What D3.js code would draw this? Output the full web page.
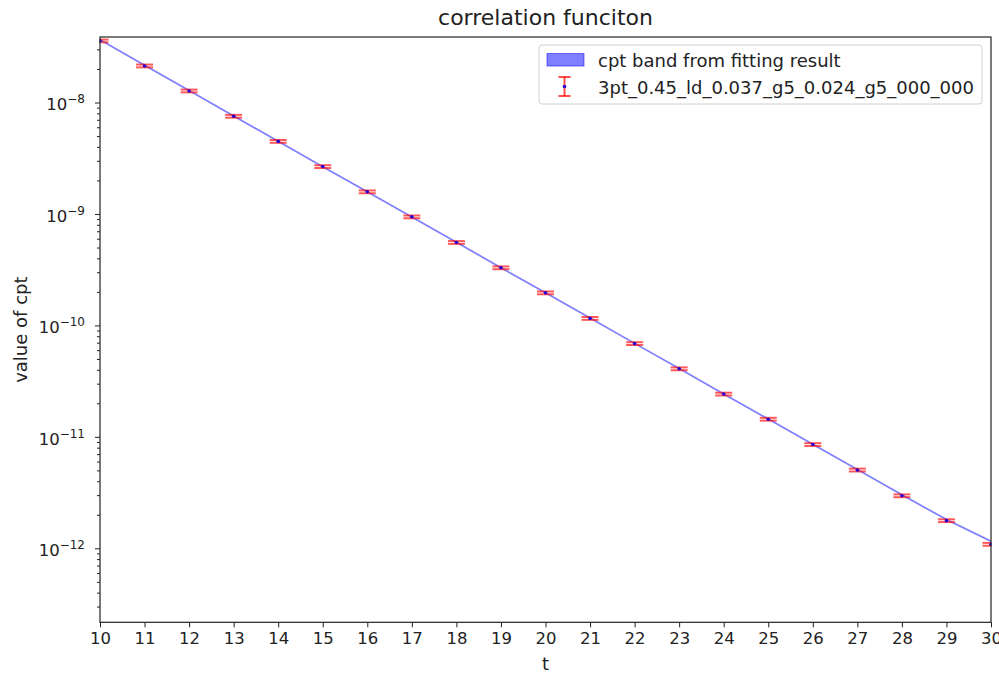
<!DOCTYPE html>
<html>
<head>
<meta charset="utf-8">
<script src="https://cdn.jsdelivr.net/npm/d3@7"></script>
<style>
  body { margin: 0; background: #fff; }
  svg, svg text { font-family: "DejaVu Sans", sans-serif; }
</style>
</head>
<body>
<div id="chart"></div>
<script>
// data
const tValues = [10, 11, 12, 13, 14, 15, 16, 17, 18, 19, 20, 21, 22, 23, 24, 25, 26, 27, 28, 29, 30];
const cptValues = [3.57e-8, 2.13e-8, 1.27e-8, 7.53e-9, 4.48e-9, 2.66e-9, 1.58e-9, 9.42e-10, 5.55e-10,
    3.29e-10, 1.96e-10, 1.156e-10, 6.87e-11, 4.08e-11, 2.42e-11, 1.44e-11, 8.53e-12, 5.04e-12,
    2.96e-12, 1.77e-12, 1.086e-12];
const cptErrors = [1.0e-9, 6.2e-10, 3.7e-10, 2.2e-10, 1.3e-10, 7.7e-11, 4.6e-11, 2.7e-11, 1.6e-11,
    9.5e-12, 5.7e-12, 3.4e-12, 2.0e-12, 1.2e-12, 7.0e-13, 4.2e-13, 2.5e-13, 1.5e-13,
    8.6e-14, 5.1e-14, 3.2e-14];
const bandCenter = [3.66e-8, 2.16e-8, 1.28e-8, 7.58e-9, 4.49e-9, 2.66e-9, 1.58e-9, 9.40e-10, 5.57e-10,
    3.30e-10, 1.96e-10, 1.163e-10, 6.90e-11, 4.10e-11, 2.43e-11, 1.445e-11, 8.60e-12, 5.10e-12,
    3.02e-12, 1.81e-12, 1.16e-12];
const bandHalf = [7.5e-10, 4.4e-10, 2.6e-10, 1.55e-10, 9.2e-11, 5.5e-11, 3.2e-11, 1.9e-11, 1.15e-11,
    6.8e-12, 4.0e-12, 2.4e-12, 1.4e-12, 8.4e-13, 5.0e-13, 3.0e-13, 1.8e-13, 1.05e-13,
    6.2e-14, 3.7e-14, 2.4e-14];
const xTicks = tValues;
const yDecades = [1e-8, 1e-9, 1e-10, 1e-11, 1e-12];
const yExponents = ["\u22128", "\u22129", "\u221210", "\u221211", "\u221212"];
const legendLabels = ["cpt band from fitting result", "3pt_0.45_ld_0.037_g5_0.024_g5_000_000"];

const width = 999, height = 674;
const margin = {top: 37, right: 8, bottom: 52, left: 100};
const font = "DejaVu Sans, sans-serif";

const svg = d3.select("#chart").append("svg")
    .attr("width", width)
    .attr("height", height)
    .attr("font-family", font);

const x = d3.scaleLinear()
    .domain([10, 30])
    .range([margin.left, 991]);

const y = d3.scaleLog()
    .domain([10 ** -12.664, 10 ** -7.412])
    .range([622.3, margin.top]);

// band
const area = d3.area()
    .x((d, i) => x(tValues[i]))
    .y0((d, i) => y(d - bandHalf[i]))
    .y1((d, i) => y(d + bandHalf[i]));

svg.append("path")
    .datum(bandCenter)
    .attr("d", area)
    .attr("fill", "rgba(0,0,255,0.5)")
    .attr("stroke", "none");

// error bars
const capHalf = 8.5;
const bars = svg.append("g").selectAll("g")
    .data(tValues)
    .enter().append("g")
    .attr("stroke", "rgba(255,0,0,0.65)")
    .attr("stroke-width", 2);

bars.append("line")
    .attr("x1", d => x(d)).attr("x2", d => x(d))
    .attr("y1", (d, i) => y(cptValues[i] - cptErrors[i]))
    .attr("y2", (d, i) => y(cptValues[i] + cptErrors[i]));
bars.append("line")
    .attr("x1", d => x(d) - capHalf).attr("x2", d => x(d) + capHalf)
    .attr("y1", (d, i) => y(cptValues[i] + cptErrors[i]))
    .attr("y2", (d, i) => y(cptValues[i] + cptErrors[i]));
bars.append("line")
    .attr("x1", d => x(d) - capHalf).attr("x2", d => x(d) + capHalf)
    .attr("y1", (d, i) => y(cptValues[i] - cptErrors[i]))
    .attr("y2", (d, i) => y(cptValues[i] - cptErrors[i]));

svg.append("g").selectAll("circle")
    .data(tValues)
    .enter().append("circle")
    .attr("cx", d => x(d))
    .attr("cy", (d, i) => y(cptValues[i]))
    .attr("r", 1.8)
    .attr("fill", "#2a00d0");

// matplotlib clips to the axes, so cover what pokes out
svg.append("rect").attr("x", 0).attr("y", 0).attr("width", width).attr("height", margin.top - 0.5).attr("fill", "#fff");
svg.append("rect").attr("x", 991.5).attr("y", 0).attr("width", 10).attr("height", height).attr("fill", "#fff");
svg.append("rect").attr("x", 0).attr("y", 0).attr("width", margin.left - 0.5).attr("height", height).attr("fill", "#fff");

// x axis
const xAxis = svg.append("g")
    .attr("transform", `translate(0,622.3)`)
    .call(d3.axisBottom(x).tickValues(xTicks).tickFormat(d3.format("d")).tickSize(5).tickPadding(5));
xAxis.attr("font-family", font).attr("font-size", 16.5);
xAxis.select(".domain").remove();
xAxis.selectAll("text").attr("fill", "#222");
xAxis.selectAll("line").attr("stroke", "#222");

// y axis with minor ticks
const minor = [];
yDecades.concat([1e-13]).forEach(dec => {
    for (let k = 2; k <= 9; k++) {
        const v = k * dec;
        if (v >= y.domain()[0] && v <= y.domain()[1]) minor.push(v);
    }
});
const yMinor = svg.append("g")
    .attr("transform", `translate(${margin.left},0)`)
    .call(d3.axisLeft(y).tickValues(minor).tickFormat("").tickSize(3));
yMinor.select(".domain").remove();
yMinor.selectAll("line").attr("stroke", "#222");

const yAxis = svg.append("g")
    .attr("transform", `translate(${margin.left},0)`)
    .call(d3.axisLeft(y).tickValues(yDecades).tickFormat("").tickSize(5));
yAxis.attr("font-family", font);
yAxis.select(".domain").remove();
yAxis.selectAll("line").attr("stroke", "#222");
yAxis.selectAll(".tick").each(function (d, i) {
    const t = d3.select(this).append("text")
        .attr("x", -15)
        .attr("dy", "0.45em")
        .attr("text-anchor", "end")
        .attr("font-size", 16.5)
        .attr("fill", "#222");
    t.append("tspan").text("10");
    t.append("tspan").attr("dy", "-0.6em").attr("font-size", 12).text(yExponents[i]);
});

// spines
svg.append("rect")
    .attr("x", margin.left)
    .attr("y", margin.top)
    .attr("width", 991 - margin.left)
    .attr("height", 622.3 - margin.top)
    .attr("fill", "none")
    .attr("stroke", "#222")
    .attr("stroke-width", 1.2);

// titles
svg.append("text")
    .attr("x", (margin.left + 991) / 2)
    .attr("y", 25)
    .attr("text-anchor", "middle")
    .attr("font-size", 22)
    .attr("fill", "#222")
    .text("correlation funciton");

svg.append("text")
    .attr("x", (margin.left + 991) / 2)
    .attr("y", 670)
    .attr("text-anchor", "middle")
    .attr("font-size", 18)
    .attr("fill", "#222")
    .text("t");

svg.append("text")
    .attr("transform", `translate(27,${(margin.top + 622.3) / 2}) rotate(-90)`)
    .attr("text-anchor", "middle")
    .attr("font-size", 18)
    .attr("fill", "#222")
    .text("value of cpt");

// legend
const legend = svg.append("g").attr("transform", "translate(539,45)");
legend.append("rect")
    .attr("width", 443)
    .attr("height", 59)
    .attr("rx", 3)
    .attr("fill", "rgba(255,255,255,0.8)")
    .attr("stroke", "#d0d0d0");
legend.append("rect")
    .attr("x", 8).attr("y", 8.5)
    .attr("width", 37).attr("height", 12.5)
    .attr("fill", "rgba(0,0,255,0.5)")
    .attr("stroke", "rgba(0,0,255,0.5)");
const li = legend.append("g")
    .attr("stroke", "rgba(255,0,0,0.7)")
    .attr("stroke-width", 2);
li.append("line").attr("x1", 25.5).attr("x2", 25.5).attr("y1", 32).attr("y2", 51);
li.append("line").attr("x1", 19.5).attr("x2", 31.5).attr("y1", 32).attr("y2", 32);
li.append("line").attr("x1", 19.5).attr("x2", 31.5).attr("y1", 51).attr("y2", 51);
legend.append("circle").attr("cx", 25.5).attr("cy", 41.5).attr("r", 1.8).attr("fill", "#2a00d0");
legend.selectAll("text.lbl")
    .data(legendLabels)
    .enter().append("text")
    .attr("class", "lbl")
    .attr("x", 59)
    .attr("y", (d, i) => 22 + i * 26.5)
    .attr("font-size", 18)
    .attr("fill", "#222")
    .text(d => d);
</script>
</body>
</html>
